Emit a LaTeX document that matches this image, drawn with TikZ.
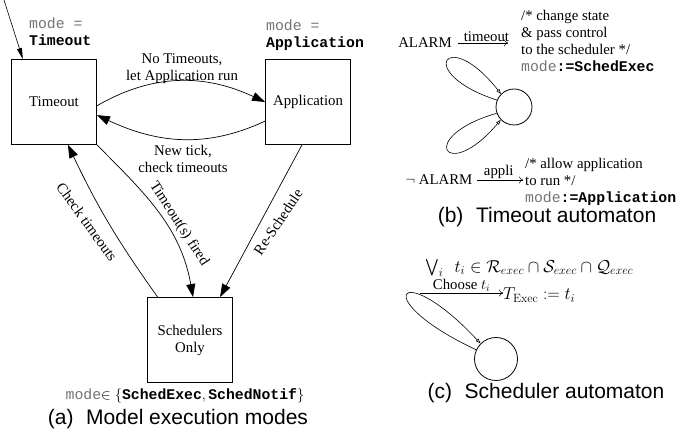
\documentclass[tikz,border=0pt]{standalone}
\usepackage{amsmath,amssymb}
\usepackage[no-math]{fontspec}
\setmainfont{Liberation Serif}
\setsansfont{Liberation Sans}
\setmonofont{Liberation Mono}
\usepackage{tikz}
\usetikzlibrary{arrows.meta}
\definecolor{modegray}{gray}{0.45}
\newcommand\diagfont{\fontsize{14.8}{17}\selectfont}
\newcommand\mathsz{\fontsize{16.5}{19}\selectfont}
\newcommand\capfont{\sffamily\fontsize{21}{24}\selectfont}
\newcommand\modeword{\textcolor{modegray}{mode}}
\tikzset{
  box/.style={draw, line width=0.9pt, minimum width=85pt, minimum height=85pt,
    inner sep=0pt, align=center, font=\diagfont},
  st/.style={draw, circle, line width=0.8pt, inner sep=0pt},
  txt/.style={font=\diagfont, align=center, inner sep=0pt},
  captxt/.style={font=\capfont, inner sep=0pt},
  bigar/.style={line width=0.7pt, -{Triangle[length=13pt,width=9pt]}},
  loopar/.style={line width=0.6pt, -{Triangle[open,length=5pt,width=3.5pt]}},
  cmar/.style={line width=0.5pt, -{Computer Modern Rightarrow[length=4pt,width=7pt]}}
}

\begin{document}
\begin{tikzpicture}[x=1pt,y=1pt]
\useasboundingbox (0,0) rectangle (690,436);
\node[box] (to) at (54,334) {Timeout};
\node[box] (ap) at (308,334) {Application};
\node[box] (sc) at (190,96) {Schedulers\\Only};
\coordinate (init) at (4,436);
\node[txt, anchor=west, align=left] (mto) at (29,404)
  {\texttt{\textcolor{modegray}{mode =}}\\\texttt{\textbf{Timeout}}};
\node[txt, anchor=west, align=left] (map) at (266,401)
  {\texttt{\textcolor{modegray}{mode =}}\\\texttt{\textbf{Application}}};
\draw[line width=0.6pt, -{Triangle[length=11pt,width=5pt]}] (init) -- (to.126);
\draw[bigar] (to.355) to[out=30,in=155] (ap.west);
\draw[bigar] (ap.204) to[out=205,in=-25] (to.-17);
\draw[bigar] (sc.127) to[bend left=5] (to.-72);
\draw[bigar] (to.south east) to[out=-45,in=100] (sc.86);
\draw[bigar] (ap.-98) -- (sc.55);
\node[txt] (l1) at (182,367) {No Timeouts,\\let Application run};
\node[txt] (l2) at (183,277) {New tick,\\check timeouts};
\node[txt, rotate=-54] (l3) at (87,214) {Check timeouts};
\node[txt, rotate=-57] (l4) at (179,212) {Timeout(s) fired};
\node[txt, rotate=56] (l5) at (278,214) {Re-Schedule};
\node[txt] (ms) at (185,40)
  {\texttt{\modeword}$\in\{\texttt{\textbf{SchedExec}},\texttt{\textbf{SchedNotif}}\}$};
\node[captxt] (ca) at (178,17) {(a)\hspace{0.6em}Model execution modes};

\node[txt] (al) at (425,393) {ALARM};
\node[txt, anchor=west, align=left] (ch) at (521,395)
  {/* change state\\\& pass control\\to the scheduler */\\
   \texttt{\modeword\textbf{:=SchedExec}}};
\draw[cmar, shorten <=6pt, shorten >=13pt] (al) -- node[txt, above=1pt] (tl) {timeout} (al -| ch.west);
\node[txt] (na) at (439,256) {$\neg$ ALARM};
\node[txt, anchor=west, align=left] (ra) at (525,254)
  {/* allow application\\to run */\\\texttt{\modeword\textbf{:=Application}}};
\draw[cmar, shorten <=4pt, shorten >=2pt] (na) -- node[txt, above=1pt] (tp) {appli} (na -| ra.west);
\node[st, minimum size=36pt] (tst) at (514,329) {};
\draw[loopar] (tst.158) .. controls +(162:88) and +(128:88) .. (tst.135);
\draw[loopar] (tst.200) .. controls +(196:85) and +(230:85) .. (tst.224);
\node[captxt] (cb) at (547,219) {(b)\hspace{0.6em}Timeout automaton};

\node[txt, font=\mathsz, anchor=west] (cd) at (425,168)
  {$\bigvee_i\ \ t_i \in \mathcal{R}_{exec}\cap\mathcal{S}_{exec}\cap\mathcal{Q}_{exec}$};
\node[txt, font=\mathsz, anchor=west] (te) at (503,141) {$T_{\mathrm{Exec}} := t_i$};
\coordinate (cs) at (420,143);
\draw[cmar] (cs) -- node[txt, above=1pt] (cl) {Choose $t_i$} (cs -| te.west);
\node[st, minimum size=43pt] (sel) at (496,77) {};
\draw[loopar] (sel.155) .. controls +(155:120) and +(133:120) .. (sel.135);
\node[captxt] (cc) at (546,43) {(c)\hspace{0.6em}Scheduler automaton};
\end{tikzpicture}
\end{document}
